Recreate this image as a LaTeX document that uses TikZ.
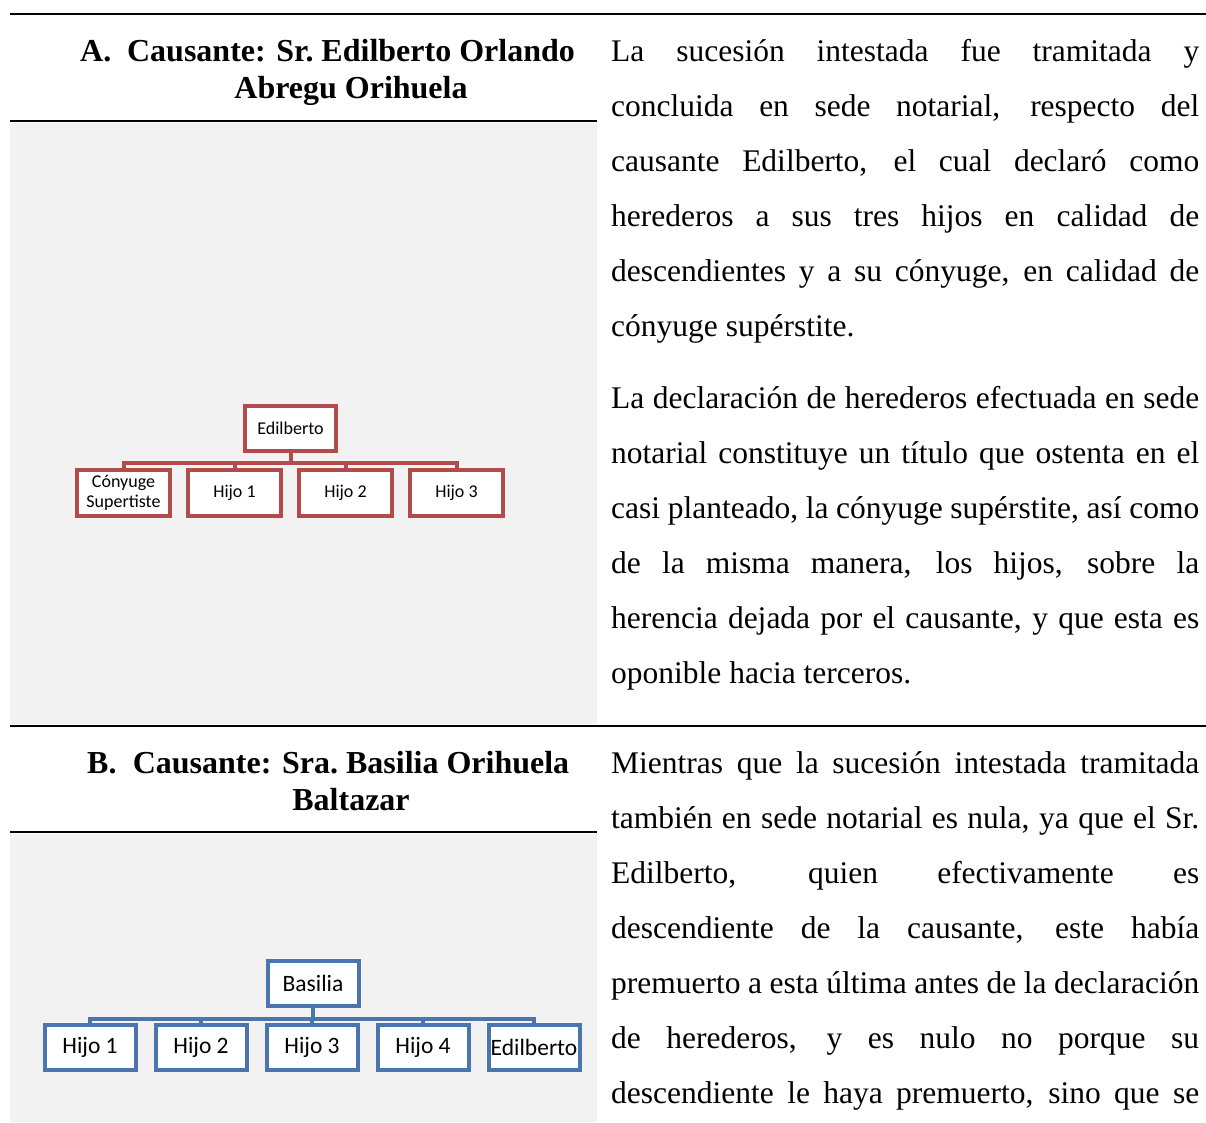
\documentclass[tikz,border=0pt]{standalone}
\usepackage{fontspec}
\setmainfont{Liberation Serif}
\newfontfamily\boxfont{Carlito}
\usetikzlibrary{positioning}
\definecolor{boxred}{RGB}{178,76,74}
\definecolor{boxblue}{RGB}{74,117,174}
\definecolor{panelgray}{RGB}{242,242,242}

\begin{document}
\begin{tikzpicture}[
    x=1pt, y=-1pt,
    rule/.style = {line width=2.4pt},
    head/.style = {font=\fontsize{32}{37}\selectfont\bfseries, align=center, inner sep=0pt},
    body/.style = {font=\fontsize{31.5}{55}\selectfont, text width=588pt, align=justify, inner sep=0pt},
    fam-box/.style = {draw, line width=4pt, fill=white, minimum width=91pt, minimum height=45pt, inner sep=1pt, align=center},
    red-box/.style = {fam-box, draw=boxred, font=\boxfont\fontsize{18}{20}\selectfont},
    kid-box/.style = {red-box, minimum width=93pt, minimum height=46pt},
    blue-box/.style = {fam-box, draw=boxblue, font=\boxfont\fontsize{23.5}{26}\selectfont},
    red-link/.style = {draw=boxred, line width=4pt},
    blue-link/.style = {draw=boxblue, line width=4pt},
    node distance = 111pt
  ]
  \useasboundingbox (0,0) rectangle (1206,1122);

  \fill[panelgray] (10,123) rectangle (597,724);
  \fill[panelgray] (10,834) rectangle (597,1122);
  \draw[rule] (10,14) -- (1206,14);
  \draw[rule] (10,121) -- (597,121);
  \draw[rule] (10,726) -- (1206,726);
  \draw[rule] (10,832) -- (597,832);

  \node[head, anchor=base west] (la) at (80,61) {A.};
  \node[head, anchor=base] (ha) at (351,98) {Causante: Sr.\ Edilberto Orlando\\Abregu Orihuela};
  \node[head, anchor=base west] (lb) at (87,773) {B.};
  \node[head, anchor=base] (hb) at (351,810) {Causante: Sra.\ Basilia Orihuela\\Baltazar};

  \node[red-box] (ed) at (290.5,428.5) {Edilberto};
  \node[kid-box] (c1) at (123.5,493) {Cónyuge\\Supertiste};
  \node[kid-box,right of=c1] (c2) {Hijo 1};
  \node[kid-box,right of=c2] (c3) {Hijo 2};
  \node[kid-box,right of=c3] (c4) {Hijo 3};
  \foreach \c in {c1,c2,c3,c4}
    \draw[red-link] (ed.south) -- ++(0,9.5) -| (\c.north);

  \node[blue-box] (ba) at (313,983) {Basilia};
  \node[blue-box] (h1) at (90,1047.5) {Hijo 1};
  \node[blue-box,right of=h1] (h2) {Hijo 2};
  \node[blue-box,right of=h2] (h3) {Hijo 3};
  \node[blue-box,right of=h3] (h4) {Hijo 4};
  \node[blue-box,right of=h4] (h5) {Edilberto};
  \foreach \h in {h1,h2,h3,h4,h5}
    \draw[blue-link] (ba.south) -- ++(0,11) -| (\h.north);

  \node[body, anchor=base west] (p1) at (611,61) {La sucesión intestada fue tramitada y\linebreak
    concluida en sede notarial, respecto del\linebreak
    causante Edilberto, el cual declaró como\linebreak
    herederos a sus tres hijos en calidad de\linebreak
    descendientes y a su cónyuge, en calidad de\linebreak
    cónyuge supérstite.};
  \node[body, anchor=base west] (p2) at (611,408) {La declaración de herederos efectuada en sede\linebreak
    notarial constituye un título que ostenta en el\linebreak
    casi planteado, la cónyuge supérstite, así como\linebreak
    de la misma manera, los hijos, sobre la\linebreak
    herencia dejada por el causante, y que esta es\linebreak
    oponible hacia terceros.};
  \node[body, anchor=base west] (p3) at (611,773) {Mientras que la sucesión intestada tramitada\linebreak
    también en sede notarial es nula, ya que el Sr.\linebreak
    Edilberto, quien efectivamente es\linebreak
    descendiente de la causante, este había\linebreak
    premuerto a esta última antes de la declaración\linebreak
    de herederos, y es nulo no porque su\linebreak
    descendiente le haya premuerto, sino que se\linebreak};
\end{tikzpicture}
\end{document}
